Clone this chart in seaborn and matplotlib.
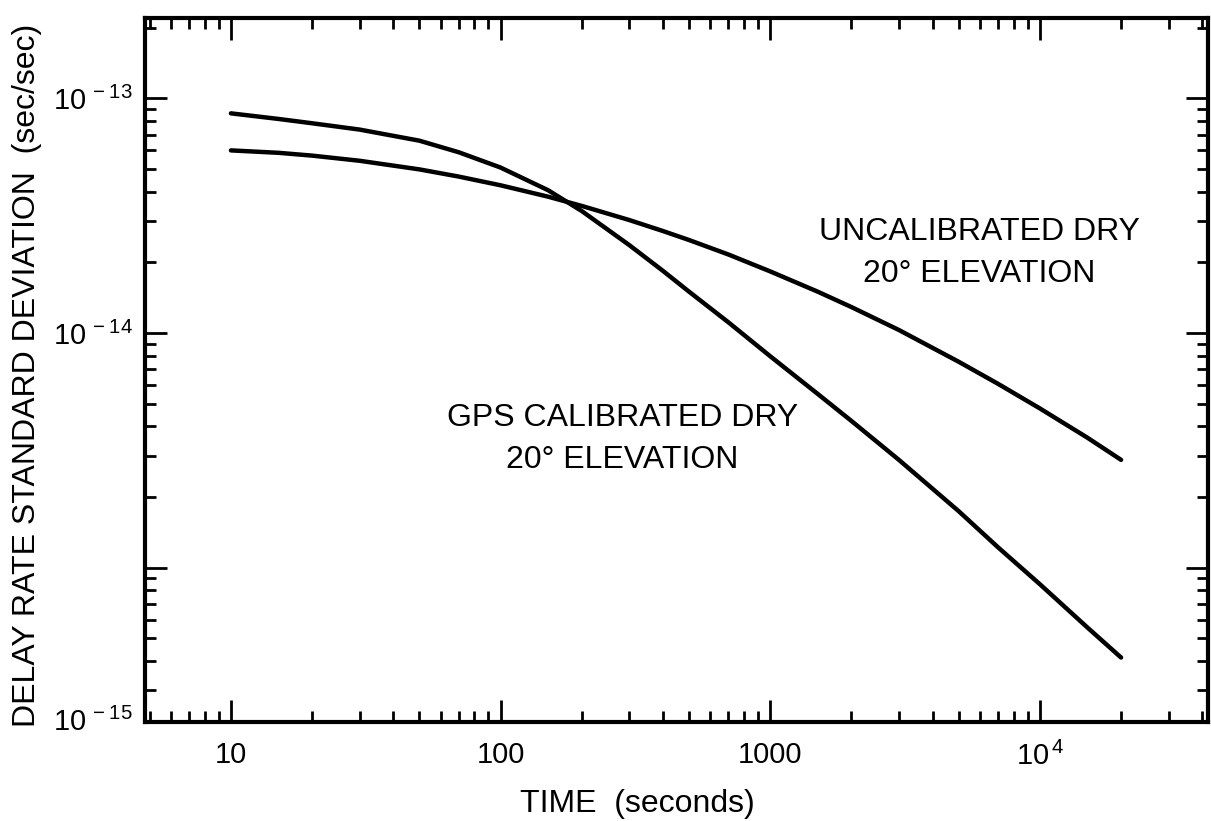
import numpy as np
import pandas as pd
import seaborn as sns
import matplotlib.pyplot as plt
from matplotlib.ticker import LogLocator, NullFormatter, FixedLocator

# Données (temps en secondes, écart-type en sec/sec)
time_s = [10, 15, 20, 30, 50, 70, 100, 150, 200, 300, 400, 500, 700,
          1000, 1500, 2000, 3000, 5000, 7000, 10000, 15000, 20000]
gps_calibrated = [8.63e-14, 8.17e-14, 7.83e-14, 7.36e-14, 6.6e-14, 5.89e-14,
                  5.07e-14, 4.06e-14, 3.31e-14, 2.37e-14, 1.84e-14, 1.50e-14,
                  1.11e-14, 7.96e-15, 5.5e-15, 4.22e-15, 2.88e-15, 1.74e-15,
                  1.22e-15, 8.5e-16, 5.56e-16, 4.14e-16]
uncalibrated = [6.0e-14, 5.86e-14, 5.70e-14, 5.42e-14, 4.98e-14, 4.64e-14,
                4.26e-14, 3.81e-14, 3.48e-14, 3.03e-14, 2.72e-14, 2.49e-14,
                2.16e-14, 1.83e-14, 1.5e-14, 1.29e-14, 1.03e-14, 7.54e-15,
                6.07e-15, 4.77e-15, 3.58e-15, 2.88e-15]

x_ticks = [10, 100, 1000, 10000]
x_tick_labels = ['10', '100', '1000', r'$10^{\,4}$']
y_ticks = [1e-13, 1e-14, 1e-15]
y_tick_labels = [r'$10^{\,-13}$', r'$10^{\,-14}$', '']

df = pd.DataFrame({'time': time_s, 'gps': gps_calibrated, 'uncal': uncalibrated})

sns.set_style('ticks')
plt.rcParams['font.family'] = ['Liberation Sans', 'DejaVu Sans']
plt.rcParams['mathtext.default'] = 'regular'
plt.rcParams['text.color'] = 'black'
plt.rcParams['axes.labelcolor'] = 'black'
plt.rcParams['xtick.color'] = 'black'
plt.rcParams['ytick.color'] = 'black'

fig = plt.figure(figsize=(12.11, 8.21), dpi=100)
ax = fig.add_axes([0.1197, 0.1206, 0.8778, 0.8575])

sns.lineplot(data=df, x='time', y='gps', color='black', linewidth=3.2, ax=ax)
sns.lineplot(data=df, x='time', y='uncal', color='black', linewidth=3.2, ax=ax)

ax.set_xscale('log')
ax.set_yscale('log')
ax.set_xlim(4.8, 42000)
ax.set_ylim(2.2e-16, 2.2e-13)

ax.xaxis.set_major_locator(FixedLocator(x_ticks))
ax.set_xticklabels(x_tick_labels)
ax.xaxis.set_minor_locator(LogLocator(base=10, subs=np.arange(2, 10), numticks=100))
ax.xaxis.set_minor_formatter(NullFormatter())
ax.yaxis.set_major_locator(FixedLocator(y_ticks))
ax.set_yticklabels(y_tick_labels)
ax.yaxis.set_minor_locator(LogLocator(base=10, subs=np.arange(2, 10), numticks=100))
ax.yaxis.set_minor_formatter(NullFormatter())

# étiquette 10^-15 placée dans le coin comme sur l'original
ax.text(-0.012, 0.0, r'$10^{\,-15}$', transform=ax.transAxes,
        ha='right', va='center', fontsize=21)

for side in ['top', 'bottom', 'left', 'right']:
    ax.spines[side].set_linewidth(3)
    ax.spines[side].set_color('black')

ax.tick_params(which='both', direction='in', top=True, right=True,
               color='black', width=2)
ax.tick_params(which='major', length=16)
ax.tick_params(which='minor', length=8)
ax.tick_params(axis='x', which='major', labelsize=21, pad=14)
ax.tick_params(axis='y', which='major', labelsize=21, pad=9)

ax.set_xlabel('TIME  (seconds)', fontsize=23)
ax.set_ylabel('DELAY RATE STANDARD DEVIATION  (sec/sec)', fontsize=23)
ax.xaxis.set_label_coords(0.463, -0.095)
ax.yaxis.set_label_coords(-0.097, 0.493)

ax.text(0.785, 0.666, 'UNCALIBRATED DRY\n20° ELEVATION', transform=ax.transAxes,
        ha='center', va='center', fontsize=23, linespacing=1.5)
ax.text(0.449, 0.402, 'GPS CALIBRATED DRY\n20° ELEVATION', transform=ax.transAxes,
        ha='center', va='center', fontsize=23, linespacing=1.5)

plt.savefig('out.png', dpi=100)
